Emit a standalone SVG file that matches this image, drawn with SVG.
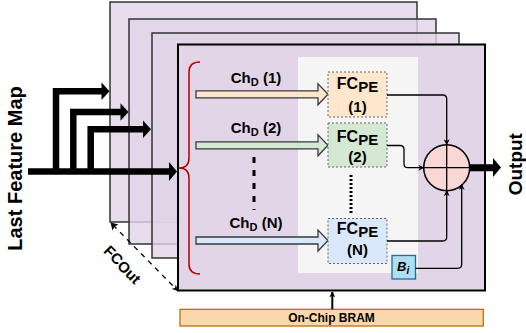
<svg xmlns="http://www.w3.org/2000/svg" width="526" height="333" viewBox="0 0 526 333">
<style>
text{font-family:"Liberation Sans",Arial,sans-serif;font-weight:bold;fill:#000}
.frame{fill:#e1d5e7;fill-opacity:0.8;stroke:#333;stroke-width:1.5}
.fc{stroke:#666;stroke-width:1;stroke-dasharray:2 2}
.ch{stroke:#36393d;stroke-width:1.3}
.thin{fill:none;stroke:#000;stroke-width:1.3}
.thick{fill:none;stroke:#000;stroke-width:6.5;stroke-linejoin:miter}
</style>
<defs>
<marker id="ah" viewBox="0 0 10 10" refX="9" refY="5" markerWidth="6" markerHeight="6" orient="auto" markerUnits="userSpaceOnUse">
<path d="M0,0 L10,5 L0,10 L3,5 Z" fill="#000"/>
</marker>
</defs>
<g id="frames">
<rect class="frame" x="110" y="2" width="307" height="220"/>
<rect class="frame" x="129" y="19" width="307" height="225"/>
<rect class="frame" x="152" y="33" width="307" height="225"/>
</g>
<g id="main-frame">
<rect x="178" y="44.5" width="307" height="246" fill="#e1d5e7" stroke="#000" stroke-width="2"/>
<rect x="298" y="57" width="120" height="216" fill="#f5f5f5"/>
</g>
<g id="brace">
<path d="M200,62 Q189,62 189,72 L189,158 Q189,168 179,168 Q189,168 189,178 L189,264 Q189,274 200,274" fill="none" stroke="#b20000" stroke-width="1.5"/>
</g>
<g id="ch1">
<path class="ch" fill="#ffe6cc" d="M196,90.8 L318,90.8 L318,83.8 L328,94.3 L318,104.8 L318,97.8 L196,97.8 Z"/>
<text x="256" y="83" text-anchor="middle" font-size="15">Ch<tspan font-size="11" dy="3">D</tspan><tspan dy="-3"> (1)</tspan></text>
</g>
<g id="ch2">
<path class="ch" fill="#d5e8d4" d="M196,141.8 L318,141.8 L318,134.8 L328,145.3 L318,155.8 L318,148.8 L196,148.8 Z"/>
<text x="256" y="132.5" text-anchor="middle" font-size="15">Ch<tspan font-size="11" dy="3">D</tspan><tspan dy="-3"> (2)</tspan></text>
</g>
<g id="chN">
<path class="ch" fill="#dae8fc" d="M196,237 L318,237 L318,230 L328,240.5 L318,251 L318,244 L196,244 Z"/>
<text x="256" y="228" text-anchor="middle" font-size="15">Ch<tspan font-size="11" dy="3">D</tspan><tspan dy="-3"> (N)</tspan></text>
</g>
<g id="fc1">
<rect class="fc" x="328" y="72" width="59" height="45" fill="#ffe6cc"/>
<text x="357.5" y="89" text-anchor="middle" font-size="16">FC<tspan font-size="15" dy="3">PE</tspan></text>
<text x="357.5" y="111.5" text-anchor="middle" font-size="15">(1)</text>
</g>
<g id="fc2">
<rect class="fc" x="328" y="123" width="59" height="44" fill="#d5e8d4"/>
<text x="357.5" y="141.5" text-anchor="middle" font-size="16">FC<tspan font-size="15" dy="3">PE</tspan></text>
<text x="357.5" y="161.5" text-anchor="middle" font-size="15">(2)</text>
</g>
<g id="fcN">
<rect class="fc" x="328" y="218.5" width="59" height="45" fill="#dae8fc"/>
<text x="357.5" y="234" text-anchor="middle" font-size="16">FC<tspan font-size="15" dy="3">PE</tspan></text>
<text x="357.5" y="255" text-anchor="middle" font-size="15">(N)</text>
</g>
<g id="bi">
<rect x="392" y="255.5" width="23.5" height="23.5" fill="#b1ddf0" stroke="#10739e" stroke-width="1.3"/>
<text x="397" y="271" font-size="13" font-style="italic">B<tspan font-size="10" dy="3">i</tspan></text>
</g>
<g id="sum">
<circle cx="446.7" cy="167.7" r="23" fill="#f8d7d5" stroke="#000" stroke-width="1.5"/>
<path d="M423.7,167.7 H469.7 M446.7,144.7 V190.7" stroke="#000" stroke-width="1.3"/>
</g>
<g id="bram">
<rect x="180" y="309.3" width="303.3" height="16.7" fill="#fad7ac" stroke="#b46504" stroke-width="1.2"/>
<text x="331.5" y="321.8" text-anchor="middle" font-size="12">On-Chip BRAM</text>
</g>
<g id="labels">
<text transform="translate(22,168.5) rotate(-90)" text-anchor="middle" font-size="20">Last Feature Map</text>
<text transform="translate(522,164.2) rotate(-90)" text-anchor="middle" font-size="19">Output</text>
<text transform="translate(119,268) rotate(45)" text-anchor="middle" font-size="15">FC<tspan dy="1">Out</tspan></text>
</g>
<g id="connectors">
<path class="thick" d="M28,171.5 H171"/>
<path d="M169,162 L177,171.5 L169,181 Z" fill="#000"/>
<path class="thick" d="M56,171.5 V91.3 H103"/>
<path d="M101.5,82.5 L109.5,91.3 L101.5,100 Z" fill="#000"/>
<path class="thick" d="M73.3,171.5 V112 H122"/>
<path d="M120.5,103.2 L128.5,112 L120.5,120.8 Z" fill="#000"/>
<path class="thick" d="M90.7,171.5 V129.3 H145"/>
<path d="M143,120.5 L151,129.3 L143,138 Z" fill="#000"/>
<path d="M254,157 V210" stroke="#000" stroke-width="3" stroke-dasharray="6 7"/>
<path d="M351,175 V213" stroke="#000" stroke-width="3" stroke-dasharray="2 2"/>
<path class="thin" d="M387,95 H442.7 Q446.7,95 446.7,99 V144.7" marker-end="url(#ah)"/>
<path class="thin" d="M387,145.5 H400 Q404,145.5 404,149.5 V163.7 Q404,167.7 408,167.7 H423.7" marker-end="url(#ah)"/>
<path class="thin" d="M387,241 H442.7 Q446.7,241 446.7,237 V190.7" marker-end="url(#ah)"/>
<path class="thin" d="M415.5,268.3 H457.7 Q461.7,268.3 461.7,264.3 V184.5" marker-end="url(#ah)"/>
<path d="M469.7,164.2 H493 V158 L501,167.6 L493,177 V171.2 H469.7 Z" fill="#000"/>
<path d="M332.3,309.3 V292" stroke="#000" stroke-width="2" marker-end="url(#ah)"/>
<path d="M113,225 L177.5,290.5" stroke="#000" stroke-width="1.3" stroke-dasharray="5 5" marker-end="url(#ah)"/>
<path d="M118.5,224.5 L110.5,222.5 L112.5,230.5 L114.5,226.5 Z" fill="#000"/>
</g>
</svg>
